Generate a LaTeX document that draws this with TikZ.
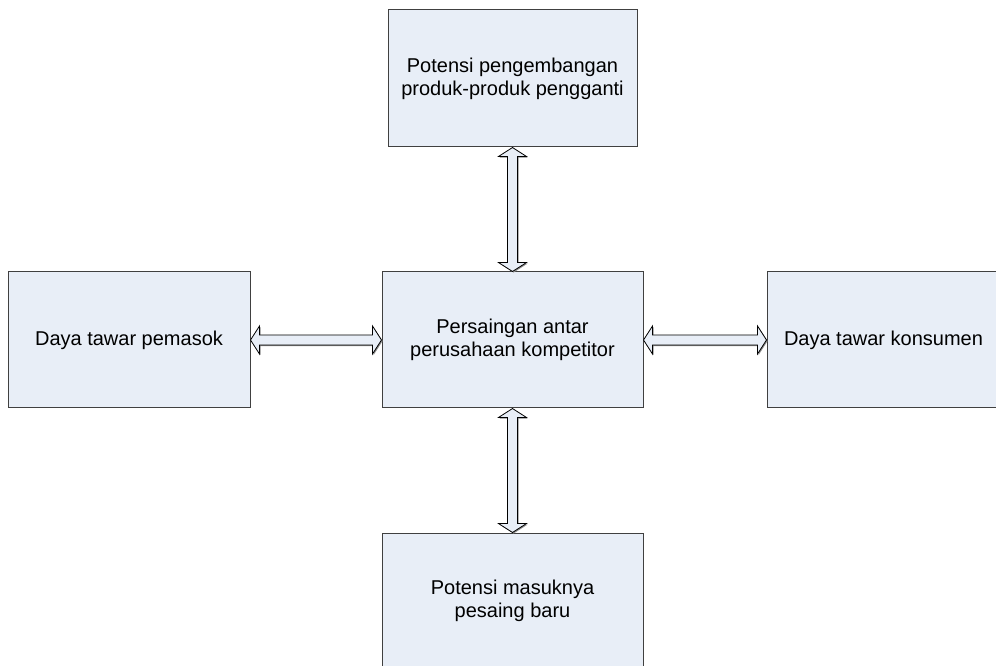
\documentclass[tikz,border=0pt]{standalone}
\usepackage{fontspec}
\setmainfont{Liberation Sans}
\usetikzlibrary{calc,shadows}

\definecolor{kotak}{RGB}{232,238,247}

\tikzset{
  faktor/.style={draw=black!75, line width=0.75pt, fill=kotak, align=center,
    inner sep=0pt, font=\fontsize{15}{17.25}\selectfont},
  panah/.style={draw=black, line width=0.6pt, fill=kotak, line join=miter,
    drop shadow={shadow xshift=0.8pt, shadow yshift=-0.8pt, fill=black!45, opacity=1}},
}

% panah dua arah dari #1 ke #2, arah #3
\newcommand{\duaarah}[3]{%
  \draw[panah] (#1)
    -- ($(#1)+(#3:9)+(#3+90:14)$)
    -- ($(#1)+(#3:9)+(#3+90:5)$)
    -- ($(#2)-(#3:9)+(#3+90:5)$)
    -- ($(#2)-(#3:9)+(#3+90:14)$)
    -- (#2)
    -- ($(#2)-(#3:9)-(#3+90:14)$)
    -- ($(#2)-(#3:9)-(#3+90:5)$)
    -- ($(#1)+(#3:9)-(#3+90:5)$)
    -- ($(#1)+(#3:9)-(#3+90:14)$)
    -- cycle;}

\begin{document}
\begin{tikzpicture}[x=0.75pt,y=-0.75pt]
\useasboundingbox (0,0) rectangle (996,666);

\node[faktor, minimum width=186.75pt, minimum height=102.75pt] (pengganti) at (512.5,78.5)
  {Potensi pengembangan\\produk-produk pengganti};
\node[faktor, minimum width=195.75pt, minimum height=102pt] (persaingan) at (512.5,340)
  {Persaingan antar\\perusahaan kompetitor};
\node[faktor, minimum width=181.5pt, minimum height=102pt] (pemasok) at (129,340)
  {Daya tawar pemasok};
\node[faktor, minimum width=174.75pt, minimum height=102pt] (konsumen) at (883.5,340)
  {Daya tawar konsumen};
\node[faktor, minimum width=195.75pt, minimum height=102pt] (pendatang) at (512.5,601)
  {Potensi masuknya\\pesaing baru};

\duaarah{pengganti.south}{persaingan.north}{90}
\duaarah{pemasok.east}{persaingan.west}{0}
\duaarah{persaingan.east}{konsumen.west}{0}
\duaarah{persaingan.south}{pendatang.north}{90}
\end{tikzpicture}
\end{document}
